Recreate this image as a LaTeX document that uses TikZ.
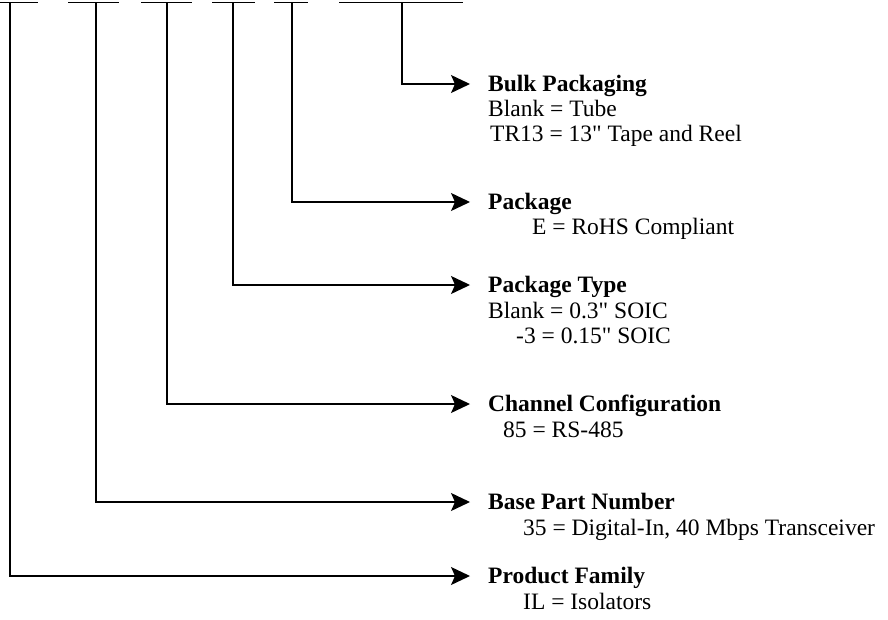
\documentclass[tikz,border=0pt]{standalone}
\usepackage{fontspec}
\setmainfont{Liberation Serif}
\usetikzlibrary{arrows.meta}

\tikzset{
  bar/.style={line width=1.3pt},
  lead/.style={line width=1.3pt,-{Stealth[length=19pt,width=18pt,inset=4pt]}},
  title/.style={anchor=west,inner sep=0pt,text height=15.5pt,text depth=0pt,font=\fontsize{23.5}{25}\selectfont\bfseries},
  entry/.style={anchor=base west,inner sep=0pt,font=\fontsize{23.5}{25}\selectfont},
}
\newcommand{\inch}{\textquotedbl}

\begin{document}
\begin{tikzpicture}[x=1pt,y=-1pt]
  \useasboundingbox (0,0) rectangle (888,620);

  % Part number blanks
  \draw[bar] (0,2.7) -- (38,2.7);
  \draw[bar] (68,2.7) -- (119,2.7);
  \draw[bar] (141,2.7) -- (192,2.7);
  \draw[bar] (212,2.7) -- (255,2.7);
  \draw[bar] (274,2.7) -- (308,2.7);
  \draw[bar] (339,2.7) -- (463,2.7);

  \coordinate (fam top) at (10,2.7);
  \coordinate (base top) at (96,2.7);
  \coordinate (chan top) at (167,2.7);
  \coordinate (type top) at (233,2.7);
  \coordinate (pack top) at (292,2.7);
  \coordinate (bulk top) at (402,2.7);

  % Labels
  \node[title] (bulk) at (488,84) {Bulk Packaging};
  \node[entry] (bulk1) at (488,117) {Blank = Tube};
  \node[entry] (bulk2) at (490,142) {TR13 = 13\inch{} Tape and Reel};

  \node[title] (pack) at (488,202) {Package};
  \node[entry] (pack1) at (532,235) {E = RoHS Compliant};

  \node[title] (type) at (488,285) {Package Type};
  \node[entry] (type1) at (488,318) {Blank = 0.3\inch{} SOIC};
  \node[entry] (type2) at (516,343) {-3 = 0.15\inch{} SOIC};

  \node[title] (chan) at (488,404) {Channel Configuration};
  \node[entry] (chan1) at (503,437) {85 = RS-485};

  \node[title] (base) at (488,502) {Base Part Number};
  \node[entry] (base1) at (523,535) {35 = Digital-In, 40 Mbps Transceiver};

  \node[title] (fam) at (488,576) {Product Family};
  \node[entry] (fam1) at (523,609) {IL = Isolators};

  % Leaders
  \draw[lead] (bulk top) |- ([xshift=-18pt]bulk.west);
  \draw[lead] (pack top) |- ([xshift=-18pt]pack.west);
  \draw[lead] (type top) |- ([xshift=-18pt]type.west);
  \draw[lead] (chan top) |- ([xshift=-18pt]chan.west);
  \draw[lead] (base top) |- ([xshift=-18pt]base.west);
  \draw[lead] (fam top) |- ([xshift=-18pt]fam.west);
\end{tikzpicture}
\end{document}
